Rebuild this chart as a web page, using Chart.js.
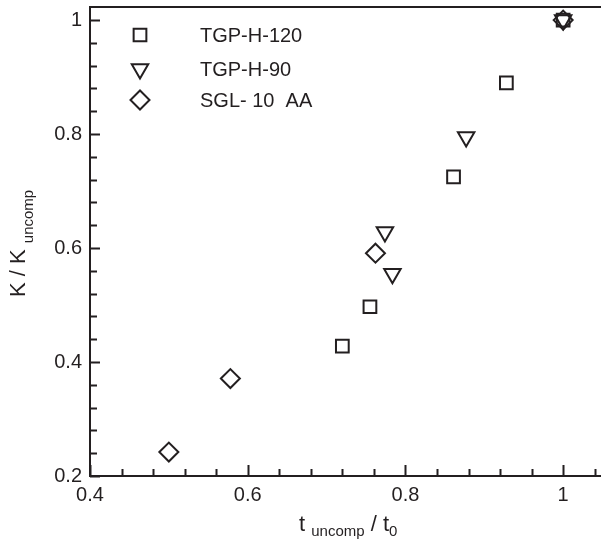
<!DOCTYPE html>
<html>
<head>
<meta charset="utf-8">
<script src="https://cdn.jsdelivr.net/npm/chart.js@4.4.1/dist/chart.umd.min.js"></script>
<style>
  html, body { margin: 0; padding: 0; background: #fff; }
  #wrap { width: 601px; height: 541px; }
</style>
</head>
<body>
<div id="wrap"><canvas id="chart" width="601" height="541"></canvas></div>
<script>
// values
const seriesNames = ["TGP-H-120", "TGP-H-90", "SGL- 10  AA"];
const h120X = [0.720, 0.755, 0.861, 0.928, 1.0];
const h120Y = [0.428, 0.497, 0.725, 0.890, 1.0];
const h90X = [0.774, 0.7835, 0.877, 1.0];
const h90Y = [0.628, 0.555, 0.795, 1.0];
const sglX = [0.500, 0.578, 0.762, 1.0];
const sglY = [0.242, 0.371, 0.591, 1.0];
const xTicks = [0.4, 0.6, 0.8, 1];
const yTicks = [0.2, 0.4, 0.6, 0.8, 1];
const minorStep = 0.04;

const ink = "#231f20";
const font = "'Liberation Sans', Arial, Helvetica, sans-serif";

const toPoints = (xs, ys) => xs.map((x, i) => ({ x: x, y: ys[i] }));

function series(label, data, style, rotation) {
  return {
    label: label,
    data: data,
    pointStyle: style,
    rotation: rotation,
    pointRadius: style === "rect" ? 9 : 9.5,
    pointHoverRadius: 9,
    pointBorderWidth: 2,
    pointBorderColor: ink,
    pointBackgroundColor: "rgba(0,0,0,0)",
    showLine: false
  };
}

const isMajor = (v) => Math.abs(v / 0.2 - Math.round(v / 0.2)) < 1e-6;

// axis frame, inward ticks, legend and titles with subscripts
const decor = {
  id: "decor",
  afterDraw(chart) {
    const { ctx, chartArea: a, scales } = chart;
    const x = scales.x, y = scales.y;
    ctx.save();
    ctx.strokeStyle = ink;
    ctx.fillStyle = ink;
    ctx.lineWidth = 2;
    ctx.lineCap = "square";
    ctx.beginPath();
    ctx.moveTo(a.right + 2, a.top);
    ctx.lineTo(a.left, a.top);
    ctx.lineTo(a.left, a.bottom);
    ctx.lineTo(a.right + 2, a.bottom);
    ctx.stroke();

    ctx.lineCap = "butt";
    ctx.beginPath();
    for (let i = 0; ; i++) {
      const v = x.min + i * minorStep;
      if (v > x.max + 1e-9) break;
      const px = Math.round(x.getPixelForValue(v)) + 0.5;
      ctx.moveTo(px, a.bottom);
      ctx.lineTo(px, a.bottom - (isMajor(v) ? 11 : 7));
    }
    for (let i = 0; ; i++) {
      const v = y.min + i * minorStep;
      if (v > y.max + 1e-9) break;
      const py = Math.round(y.getPixelForValue(v)) + 0.5;
      ctx.moveTo(a.left, py);
      ctx.lineTo(a.left + (isMajor(v) ? 10 : 7), py);
    }
    ctx.stroke();

    // legend
    const rows = [35, 69, 100];
    chart.data.datasets.forEach((ds, i) => {
      ctx.fillStyle = "rgba(0,0,0,0)";
      ctx.strokeStyle = ink;
      ctx.lineWidth = 2;
      Chart.helpers.drawPoint(ctx, {
        pointStyle: ds.pointStyle,
        rotation: ds.rotation || 0,
        radius: ds.pointRadius,
        borderWidth: 2
      }, 140, rows[i]);
      ctx.fillStyle = ink;
      ctx.font = "20px " + font;
      ctx.textBaseline = "middle";
      ctx.textAlign = "left";
      ctx.fillText(ds.label, 200, rows[i] + 1);
    });

    // x title: t_uncomp / t_0
    ctx.fillStyle = ink;
    ctx.textBaseline = "alphabetic";
    ctx.textAlign = "left";
    let cx = 299;
    const parts = [["t ", 0], ["uncomp", 1], [" / t", 0], ["0", 1]];
    parts.forEach(([s, sub]) => {
      ctx.font = (sub ? "15px " : "22px ") + font;
      ctx.fillText(s, cx, sub ? 536 : 531);
      cx += ctx.measureText(s).width;
    });

    // y title: K / K_uncomp
    ctx.translate(25, 297);
    ctx.rotate(-Math.PI / 2);
    ctx.font = "22px " + font;
    ctx.fillText("K / K ", 0, 0);
    const w = ctx.measureText("K / K ").width;
    ctx.font = "15px " + font;
    ctx.fillText("uncomp", w, 8);
    ctx.restore();
  }
};

new Chart(document.getElementById("chart"), {
  type: "scatter",
  data: {
    datasets: [
      series(seriesNames[0], toPoints(h120X, h120Y), "rect", 0),
      series(seriesNames[1], toPoints(h90X, h90Y), "triangle", 180),
      series(seriesNames[2], toPoints(sglX, sglY), "rectRot", 0)
    ]
  },
  options: {
    responsive: false,
    animation: false,
    devicePixelRatio: 1,
    layout: { autoPadding: false, padding: { top: 7, right: 0, left: 0, bottom: 0 } },
    plugins: { legend: { display: false }, tooltip: { enabled: false } },
    scales: {
      x: {
        type: "linear",
        min: 0.4,
        max: 1.048,
        grid: { display: false, drawTicks: false },
        border: { display: false },
        afterBuildTicks: (s) => { s.ticks = xTicks.map((v) => ({ value: v })); },
        afterFit: (s) => { s.height = 65; s.paddingLeft = 0; s.paddingRight = 0; },
        ticks: {
          padding: 7,
          color: ink,
          font: { family: font, size: 20 },
          maxRotation: 0,
          callback: (v) => String(+v.toFixed(2))
        }
      },
      y: {
        type: "linear",
        min: 0.2,
        max: 1.023,
        grid: { display: false, drawTicks: false },
        border: { display: false },
        afterBuildTicks: (s) => { s.ticks = yTicks.map((v) => ({ value: v })); },
        afterFit: (s) => { s.width = 90; s.paddingTop = 0; s.paddingBottom = 0; },
        ticks: {
          padding: 8,
          color: ink,
          font: { family: font, size: 20 },
          callback: (v) => String(+v.toFixed(2))
        }
      }
    }
  },
  plugins: [decor]
});
</script>
</body>
</html>
